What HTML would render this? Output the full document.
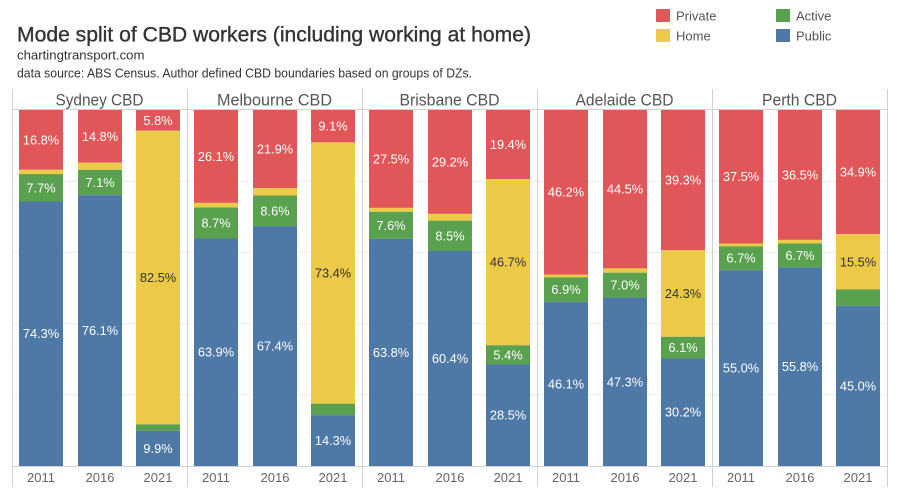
<!DOCTYPE html>
<html><head><meta charset="utf-8"><style>
html,body{margin:0;padding:0;background:#fff;}
svg{display:block;font-family:"Liberation Sans",Arial,sans-serif;}
.lb{font-size:12.8px;fill:#fff;text-anchor:middle;}
.lh{font-size:12.8px;fill:#333;text-anchor:middle;}
.yr{font-size:13px;fill:#666;text-anchor:middle;}
.hd{font-size:17px;fill:#555;text-anchor:middle;}
.lg{font-size:13px;fill:#555;}
</style></head><body>
<svg width="900" height="500" viewBox="0 0 900 500" xmlns="http://www.w3.org/2000/svg">
<rect width="900" height="500" fill="#fff"/>
<!-- title -->
<text x="17" y="41.3" font-size="21" fill="#333" stroke="#333" stroke-width="0.35" textLength="514" lengthAdjust="spacingAndGlyphs">Mode split of CBD workers (including working at home)</text>
<text x="17" y="59.7" font-size="13" fill="#333" textLength="127.5" lengthAdjust="spacingAndGlyphs">chartingtransport.com</text>
<text x="17" y="77.5" font-size="13" fill="#333" textLength="455" lengthAdjust="spacingAndGlyphs">data source: ABS Census. Author defined CBD boundaries based on groups of DZs.</text>
<!-- legend -->
<rect x="656" y="9" width="14" height="13" fill="#e15759"/>
<rect x="656" y="29" width="14" height="13" fill="#edc948"/>
<rect x="776" y="9" width="14" height="13" fill="#59a14f"/>
<rect x="776" y="29" width="14" height="13" fill="#4e79a7"/>
<text class="lg" x="676" y="20.5">Private</text>
<text class="lg" x="676" y="40.5">Home</text>
<text class="lg" x="796" y="20.5">Active</text>
<text class="lg" x="796" y="40.5">Public</text>
<!-- gridlines -->
<g stroke="#ececec" stroke-width="1">
<line x1="12" y1="181.2" x2="887" y2="181.2"/>
<line x1="12" y1="252.4" x2="887" y2="252.4"/>
<line x1="12" y1="323.6" x2="887" y2="323.6"/>
<line x1="12" y1="394.8" x2="887" y2="394.8"/>
</g>
<!-- panel borders -->
<g stroke="#d0d0d0" stroke-width="1">
<line x1="12.5" y1="89" x2="12.5" y2="487"/>
<line x1="187.5" y1="89" x2="187.5" y2="487"/>
<line x1="362.5" y1="89" x2="362.5" y2="487"/>
<line x1="537.5" y1="89" x2="537.5" y2="487"/>
<line x1="712.5" y1="89" x2="712.5" y2="487"/>
<line x1="887.5" y1="89" x2="887.5" y2="487"/>
<line x1="12" y1="109.5" x2="888" y2="109.5"/>
<line x1="12" y1="466.5" x2="888" y2="466.5"/>
</g>
<!-- headers -->
<text class="hd" x="99.5" y="105.7" textLength="88" lengthAdjust="spacingAndGlyphs">Sydney CBD</text>
<text class="hd" x="274.5" y="105.7" textLength="115" lengthAdjust="spacingAndGlyphs">Melbourne CBD</text>
<text class="hd" x="449.5" y="105.7" textLength="100" lengthAdjust="spacingAndGlyphs">Brisbane CBD</text>
<text class="hd" x="624.5" y="105.7" textLength="98" lengthAdjust="spacingAndGlyphs">Adelaide CBD</text>
<text class="hd" x="799.5" y="105.7" textLength="75" lengthAdjust="spacingAndGlyphs">Perth CBD</text>

<!-- Sydney -->
<g>
<rect x="19" y="110" width="44" height="59.8" fill="#e15759"/>
<rect x="19" y="169.8" width="44" height="4.3" fill="#edc948"/>
<rect x="19" y="174.1" width="44" height="27.4" fill="#59a14f"/>
<rect x="19" y="201.5" width="44" height="264.5" fill="#4e79a7"/>
<text class="lb" x="41" y="144.4">16.8%</text>
<text class="lb" x="41" y="192.3">7.7%</text>
<text class="lb" x="41" y="338.2">74.3%</text>

<rect x="78" y="110" width="44" height="52.7" fill="#e15759"/>
<rect x="78" y="162.7" width="44" height="7.1" fill="#edc948"/>
<rect x="78" y="169.8" width="44" height="25.3" fill="#59a14f"/>
<rect x="78" y="195.1" width="44" height="270.9" fill="#4e79a7"/>
<text class="lb" x="100" y="140.9">14.8%</text>
<text class="lb" x="100" y="187">7.1%</text>
<text class="lb" x="100" y="335">76.1%</text>

<rect x="136" y="110" width="44" height="20.7" fill="#e15759"/>
<rect x="136" y="130.7" width="44" height="293.7" fill="#edc948"/>
<rect x="136" y="424.4" width="44" height="6.4" fill="#59a14f"/>
<rect x="136" y="430.8" width="44" height="35.2" fill="#4e79a7"/>
<text class="lb" x="158" y="124.9">5.8%</text>
<text class="lh" x="158" y="282">82.5%</text>
<text class="lb" x="158" y="452.9">9.9%</text>
</g>

<!-- Melbourne -->
<g>
<rect x="194" y="110" width="44" height="92.9" fill="#e15759"/>
<rect x="194" y="202.9" width="44" height="4.6" fill="#edc948"/>
<rect x="194" y="207.5" width="44" height="31" fill="#59a14f"/>
<rect x="194" y="238.5" width="44" height="227.5" fill="#4e79a7"/>
<text class="lb" x="216" y="161">26.1%</text>
<text class="lb" x="216" y="227.5">8.7%</text>
<text class="lb" x="216" y="356.7">63.9%</text>

<rect x="253" y="110" width="44" height="78" fill="#e15759"/>
<rect x="253" y="188" width="44" height="7.5" fill="#edc948"/>
<rect x="253" y="195.5" width="44" height="30.6" fill="#59a14f"/>
<rect x="253" y="226.1" width="44" height="239.9" fill="#4e79a7"/>
<text class="lb" x="275" y="153.5">21.9%</text>
<text class="lb" x="275" y="215.3">8.6%</text>
<text class="lb" x="275" y="350.5">67.4%</text>

<rect x="311" y="110" width="44" height="32.4" fill="#e15759"/>
<rect x="311" y="142.4" width="44" height="261.3" fill="#edc948"/>
<rect x="311" y="403.7" width="44" height="11.4" fill="#59a14f"/>
<rect x="311" y="415.1" width="44" height="50.9" fill="#4e79a7"/>
<text class="lb" x="333" y="130.7">9.1%</text>
<text class="lh" x="333" y="277.5">73.4%</text>
<text class="lb" x="333" y="445">14.3%</text>
</g>

<!-- Brisbane -->
<g>
<rect x="369" y="110" width="44" height="97.9" fill="#e15759"/>
<rect x="369" y="207.9" width="44" height="3.9" fill="#edc948"/>
<rect x="369" y="211.8" width="44" height="27.1" fill="#59a14f"/>
<rect x="369" y="238.9" width="44" height="227.1" fill="#4e79a7"/>
<text class="lb" x="391" y="163.4">27.5%</text>
<text class="lb" x="391" y="229.8">7.6%</text>
<text class="lb" x="391" y="356.9">63.8%</text>

<rect x="428" y="110" width="44" height="103.9" fill="#e15759"/>
<rect x="428" y="213.9" width="44" height="6.8" fill="#edc948"/>
<rect x="428" y="220.7" width="44" height="30.3" fill="#59a14f"/>
<rect x="428" y="251" width="44" height="215" fill="#4e79a7"/>
<text class="lb" x="450" y="166.4">29.2%</text>
<text class="lb" x="450" y="240.3">8.5%</text>
<text class="lb" x="450" y="363">60.4%</text>

<rect x="486" y="110" width="44" height="69" fill="#e15759"/>
<rect x="486" y="179" width="44" height="166.3" fill="#edc948"/>
<rect x="486" y="345.3" width="44" height="19.2" fill="#59a14f"/>
<rect x="486" y="364.5" width="44" height="101.5" fill="#4e79a7"/>
<text class="lb" x="508" y="149">19.4%</text>
<text class="lh" x="508" y="266.6">46.7%</text>
<text class="lb" x="508" y="359.4">5.4%</text>
<text class="lb" x="508" y="419.7">28.5%</text>
</g>

<!-- Adelaide -->
<g>
<rect x="544" y="110" width="44" height="164.5" fill="#e15759"/>
<rect x="544" y="274.5" width="44" height="2.8" fill="#edc948"/>
<rect x="544" y="277.3" width="44" height="24.6" fill="#59a14f"/>
<rect x="544" y="301.9" width="44" height="164.1" fill="#4e79a7"/>
<text class="lb" x="566" y="196.7">46.2%</text>
<text class="lb" x="566" y="294.1">6.9%</text>
<text class="lb" x="566" y="388.4">46.1%</text>

<rect x="603" y="110" width="44" height="158.4" fill="#e15759"/>
<rect x="603" y="268.4" width="44" height="4.3" fill="#edc948"/>
<rect x="603" y="272.7" width="44" height="24.9" fill="#59a14f"/>
<rect x="603" y="297.6" width="44" height="168.4" fill="#4e79a7"/>
<text class="lb" x="625" y="193.7">44.5%</text>
<text class="lb" x="625" y="289.6">7.0%</text>
<text class="lb" x="625" y="386.3">47.3%</text>

<rect x="661" y="110" width="44" height="140.3" fill="#e15759"/>
<rect x="661" y="250.3" width="44" height="86.5" fill="#edc948"/>
<rect x="661" y="336.8" width="44" height="21.7" fill="#59a14f"/>
<rect x="661" y="358.5" width="44" height="107.5" fill="#4e79a7"/>
<text class="lb" x="683" y="184.6">39.3%</text>
<text class="lh" x="683" y="298">24.3%</text>
<text class="lb" x="683" y="352.1">6.1%</text>
<text class="lb" x="683" y="416.7">30.2%</text>
</g>

<!-- Perth -->
<g>
<rect x="719" y="110" width="44" height="133.5" fill="#e15759"/>
<rect x="719" y="243.5" width="44" height="2.8" fill="#edc948"/>
<rect x="719" y="246.3" width="44" height="23.9" fill="#59a14f"/>
<rect x="719" y="270.2" width="44" height="195.8" fill="#4e79a7"/>
<text class="lb" x="741" y="181.2">37.5%</text>
<text class="lb" x="741" y="262.7">6.7%</text>
<text class="lb" x="741" y="372.6">55.0%</text>

<rect x="778" y="110" width="44" height="129.9" fill="#e15759"/>
<rect x="778" y="239.9" width="44" height="3.6" fill="#edc948"/>
<rect x="778" y="243.5" width="44" height="23.9" fill="#59a14f"/>
<rect x="778" y="267.4" width="44" height="198.6" fill="#4e79a7"/>
<text class="lb" x="800" y="179.4">36.5%</text>
<text class="lb" x="800" y="259.9">6.7%</text>
<text class="lb" x="800" y="371.2">55.8%</text>

<rect x="836" y="110" width="44" height="124.2" fill="#e15759"/>
<rect x="836" y="234.2" width="44" height="55.2" fill="#edc948"/>
<rect x="836" y="289.4" width="44" height="16.4" fill="#59a14f"/>
<rect x="836" y="305.8" width="44" height="160.2" fill="#4e79a7"/>
<text class="lb" x="858" y="176.6">34.9%</text>
<text class="lh" x="858" y="266.3">15.5%</text>
<text class="lb" x="858" y="390.4">45.0%</text>
</g>

<!-- year labels -->
<g>
<text class="yr" x="41" y="482">2011</text><text class="yr" x="100" y="482">2016</text><text class="yr" x="158" y="482">2021</text>
<text class="yr" x="216" y="482">2011</text><text class="yr" x="275" y="482">2016</text><text class="yr" x="333" y="482">2021</text>
<text class="yr" x="391" y="482">2011</text><text class="yr" x="450" y="482">2016</text><text class="yr" x="508" y="482">2021</text>
<text class="yr" x="566" y="482">2011</text><text class="yr" x="625" y="482">2016</text><text class="yr" x="683" y="482">2021</text>
<text class="yr" x="741" y="482">2011</text><text class="yr" x="800" y="482">2016</text><text class="yr" x="858" y="482">2021</text>
</g>
</svg>
</body></html>
